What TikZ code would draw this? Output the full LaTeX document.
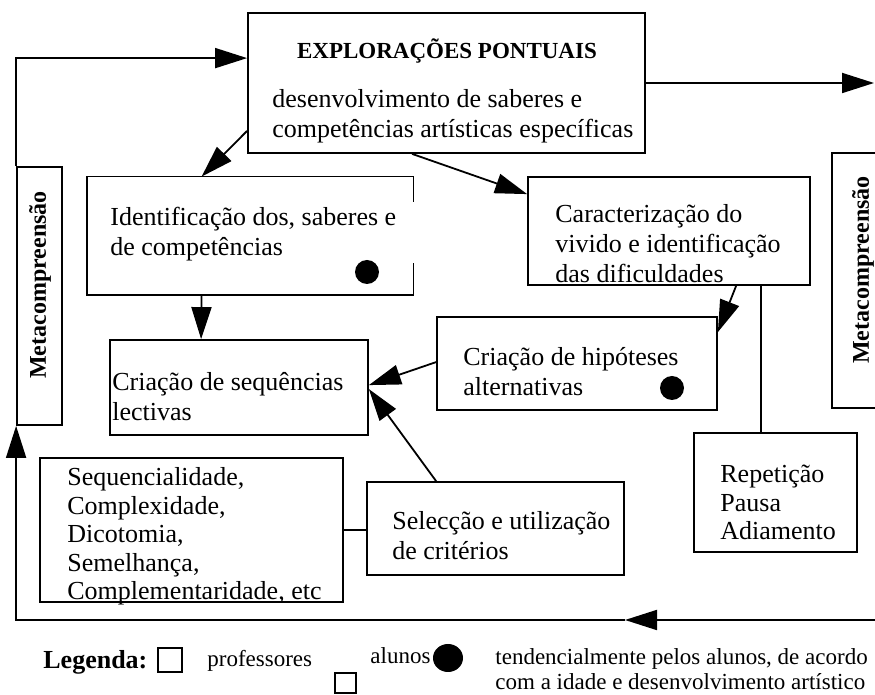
\documentclass[tikz,border=0pt]{standalone}
\usepackage{fontspec}
\setmainfont{Liberation Serif}
\usetikzlibrary{arrows.meta,calc,fit}
\tikzset{
  box/.style={draw,line width=.9pt,inner sep=0pt},
  frame/.style={inner sep=0pt},
  txt/.style={anchor=base west,align=left,inner sep=0pt,font=\fontsize{13}{15}\selectfont},
  legtxt/.style={anchor=base west,align=left,inner sep=0pt,font=\fontsize{11.5}{12.5}\selectfont},
  meta/.style={rotate=90,inner sep=0pt,font=\bfseries\fontsize{12}{14}\selectfont},
  arr/.style={line width=.9pt,-{Triangle[length=16pt,width=10pt]}},
  link/.style={line width=.9pt},
}
\begin{document}
\begin{tikzpicture}[x=0.5pt,y=-0.5pt]
\clip (0,0) rectangle (875,695);

%Boxes
\node[box,fit={(248,13) (645,153)}] (expl) {};
\node[frame,fit={(87,177) (413,295)}] (ident) {};
\node[box,fit={(528,177) (810,285)}] (carac) {};
\node[box,fit={(437,317) (717,410)}] (hipot) {};
\node[box,fit={(110,340) (368,435)}] (seqlect) {};
\node[box,fit={(40,458) (343,602)}] (crit) {};
\node[box,fit={(367,482) (624,575)}] (selec) {};
\node[box,fit={(694,433) (857,552)}] (repet) {};
\node[box,fit={(17,167) (62,425)}] (metaL) {};
\node[box,fit={(832,153) (900,408)}] (metaR) {};

%ident border, open on the right
\draw[link] ($(ident.north east)+(0,25)$) -- (ident.north east) -- (ident.north west)
  -- (ident.south west) -- (ident.south east) -- ($(ident.south east)+(0,-32)$);

%Texts (placed at the baseline of their last line)
\node[anchor=base,inner sep=0pt,font=\bfseries\fontsize{11.5}{14}\selectfont] (expltitle) at (447,59) {EXPLORAÇÕES PONTUAIS};
\node[txt] (expltxt) at (272,138) {desenvolvimento de saberes e\\competências artísticas específicas};
\node[txt] (identtxt) at (110,256) {Identificação dos, saberes e\\de competências};
\node[txt] (caractxt) at (555,283) {Caracterização do\\vivido e identificação\\das dificuldades};
\node[txt] (hipottxt) at (463,396) {Criação de hipóteses\\alternativas};
\node[txt] (seqtxt) at (112,421) {Criação de sequências\\lectivas};
\node[txt] (selectxt) at (392,560) {Selecção e utilização\\de critérios};
\node[txt,font=\fontsize{13}{14.25}\selectfont] (crittxt) at (67,600) {Sequencialidade,\\Complexidade,\\Dicotomia,\\Semelhança,\\Complementaridade, etc};
\node[txt,font=\fontsize{13}{14.25}\selectfont] (repettxt) at (720,540) {Repetição\\Pausa\\Adiamento};
\node[meta] (metaLtxt) at (40,285) {Metacompreensão};
\node[meta] (metaRtxt) at (863,270) {Metacompreensão};

%Dots
\fill (367,272) circle[radius=12];
\fill (672,388) circle[radius=12];

%Loop round the diagram
\coordinate (outR) at (874,83);
\coordinate (loopR) at (880,620);
\coordinate (loopM) at (625,620);
\draw[arr] (metaL.north west) |- ($(expl.north west)+(0,46)$);
\draw[arr] (expl.east) -- (outR);
\draw[arr] (loopR) -- (loopM);
\draw[arr] (loopM) -| (metaL.south west);

%Connectors
\draw[arr] ($(expl.south west)+(0,-23)$) -- ($(ident.north west)+(115,0)$);
\draw[arr] ($(expl.south west)+(165,0)$) -- ($(carac.north west)+(0,18)$);
\draw[arr] ($(ident.south west)+(115,0)$) -- ($(seqlect.north west)+(92,0)$);
\draw[arr] ($(carac.south west)+(209,0)$) -- ($(hipot.north east)+(0,16)$);
\draw[link] ($(carac.south west)+(234,0)$) -- ($(repet.north west)+(68,0)$);
\draw[arr] ($(hipot.north west)+(0,46)$) -- ($(seqlect.north east)+(0,46)$);
\draw[arr] ($(selec.north west)+(70,0)$) -- ($(seqlect.north east)+(0,50)$);
\draw[link] (crit.east) -- (crit.east -| selec.west);

%Legend
\node[anchor=base west,inner sep=0pt,font=\bfseries\fontsize{13}{15}\selectfont] (legtitle) at (43,669) {Legenda:};
\node[box,fit={(158,648) (182,672)}] (legprof) {};
\node[legtxt] (legproftxt) at (207,667) {professores};
\node[box,fit={(335,673) (356,693)}] (legalun) {};
\node[legtxt] (legaluntxt) at (370,664) {alunos};
\fill (448,658) circle[x radius=15,y radius=14];
\node[legtxt] (legnote) at (495,690) {tendencialmente pelos alunos, de acordo\\com a idade e desenvolvimento artístico};
\end{tikzpicture}
\end{document}
